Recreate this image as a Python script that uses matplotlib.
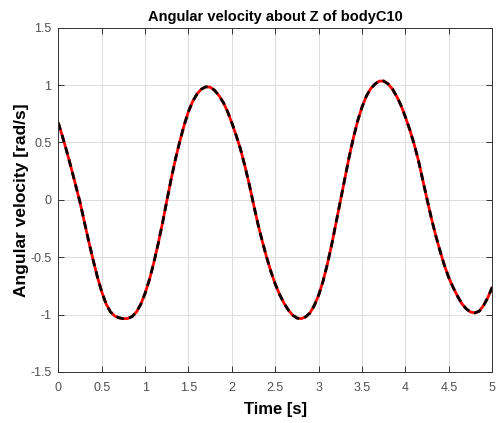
import matplotlib
matplotlib.use("Agg")
import matplotlib.pyplot as plt

# Time samples [s]
time_s = [0.00, 0.05, 0.10, 0.15, 0.20, 0.25, 0.30, 0.35, 0.40, 0.45,
          0.50, 0.55, 0.60, 0.65, 0.70, 0.75, 0.80, 0.85, 0.90, 0.95,
          1.00, 1.05, 1.10, 1.15, 1.20, 1.25, 1.30, 1.35, 1.40, 1.45,
          1.50, 1.55, 1.60, 1.65, 1.70, 1.75, 1.80, 1.85, 1.90, 1.95,
          2.00, 2.05, 2.10, 2.15, 2.20, 2.25, 2.30, 2.35, 2.40, 2.45,
          2.50, 2.55, 2.60, 2.65, 2.70, 2.75, 2.80, 2.85, 2.90, 2.95,
          3.00, 3.05, 3.10, 3.15, 3.20, 3.25, 3.30, 3.35, 3.40, 3.45,
          3.50, 3.55, 3.60, 3.65, 3.70, 3.75, 3.80, 3.85, 3.90, 3.95,
          4.00, 4.05, 4.10, 4.15, 4.20, 4.25, 4.30, 4.35, 4.40, 4.45,
          4.50, 4.55, 4.60, 4.65, 4.70, 4.75, 4.80, 4.85, 4.90, 4.95,
          5.00]

# Angular velocity about Z [rad/s]
omega_z = [0.672, 0.548, 0.415, 0.275, 0.128, -0.02, -0.19, -0.36, -0.52, -0.67,
           -0.80, -0.905, -0.975, -1.012, -1.028, -1.035, -1.034, -1.017, -0.978, -0.91,
           -0.815, -0.695, -0.55, -0.385, -0.205, -0.01, 0.18, 0.355, 0.51, 0.65,
           0.77, 0.86, 0.925, 0.965, 0.985, 0.982, 0.955, 0.91, 0.85, 0.77,
           0.67, 0.56, 0.44, 0.295, 0.135, -0.04, -0.21, -0.36, -0.50, -0.625,
           -0.735, -0.825, -0.90, -0.96, -1.005, -1.03, -1.035, -1.02, -0.985, -0.92,
           -0.83, -0.71, -0.56, -0.39, -0.20, -0.01, 0.18, 0.37, 0.54, 0.69,
           0.81, 0.905, 0.97, 1.01, 1.035, 1.035, 1.01, 0.965, 0.90, 0.82,
           0.72, 0.61, 0.485, 0.34, 0.17, 0.0, -0.165, -0.315, -0.45, -0.575,
           -0.68, -0.765, -0.84, -0.905, -0.95, -0.978, -0.985, -0.97, -0.92, -0.85,
           -0.76]

x_ticks = [0, 0.5, 1, 1.5, 2, 2.5, 3, 3.5, 4, 4.5, 5]
x_tick_labels = ["0", "0.5", "1", "1.5", "2", "2.5", "3", "3.5", "4", "4.5", "5"]
y_ticks = [-1.5, -1, -0.5, 0, 0.5, 1, 1.5]
y_tick_labels = ["-1.5", "-1", "-0.5", "0", "0.5", "1", "1.5"]

plt.rcParams['font.family'] = ['Liberation Sans', 'DejaVu Sans']

fig = plt.figure(figsize=(4.96, 4.23), dpi=100)
ax = fig.add_axes([0.1175, 0.1206, 0.875, 0.8139])

ax.plot(time_s, omega_z, color='red', lw=2.0, solid_capstyle='butt')
ax.plot(time_s, omega_z, color='black', lw=2.0, linestyle=(0, (2.7, 1.9)))

ax.set_xlim(0, 5)
ax.set_ylim(-1.5, 1.5)
ax.set_xticks(x_ticks)
ax.set_xticklabels(x_tick_labels)
ax.set_yticks(y_ticks)
ax.set_yticklabels(y_tick_labels)

ax.grid(True, color='#dcdcdc', lw=0.7)
ax.set_axisbelow(True)
for s in ax.spines.values():
    s.set_color('#333333')
    s.set_linewidth(0.7)
ax.tick_params(direction='in', length=4, width=0.7, colors='#333333',
               labelcolor='#505050', labelsize=9, top=True, right=True)
ax.tick_params(axis='x', pad=7)
ax.tick_params(axis='y', pad=5)

ax.set_title("Angular velocity about Z of bodyC10", fontsize=10.5,
             fontweight='bold', pad=5)
ax.set_xlabel("Time [s]", fontsize=12, fontweight='bold', labelpad=6)
ax.set_ylabel("Angular velocity [rad/s]", fontsize=12.5, fontweight='bold',
              labelpad=1)

fig.savefig("out.png", dpi=100)
